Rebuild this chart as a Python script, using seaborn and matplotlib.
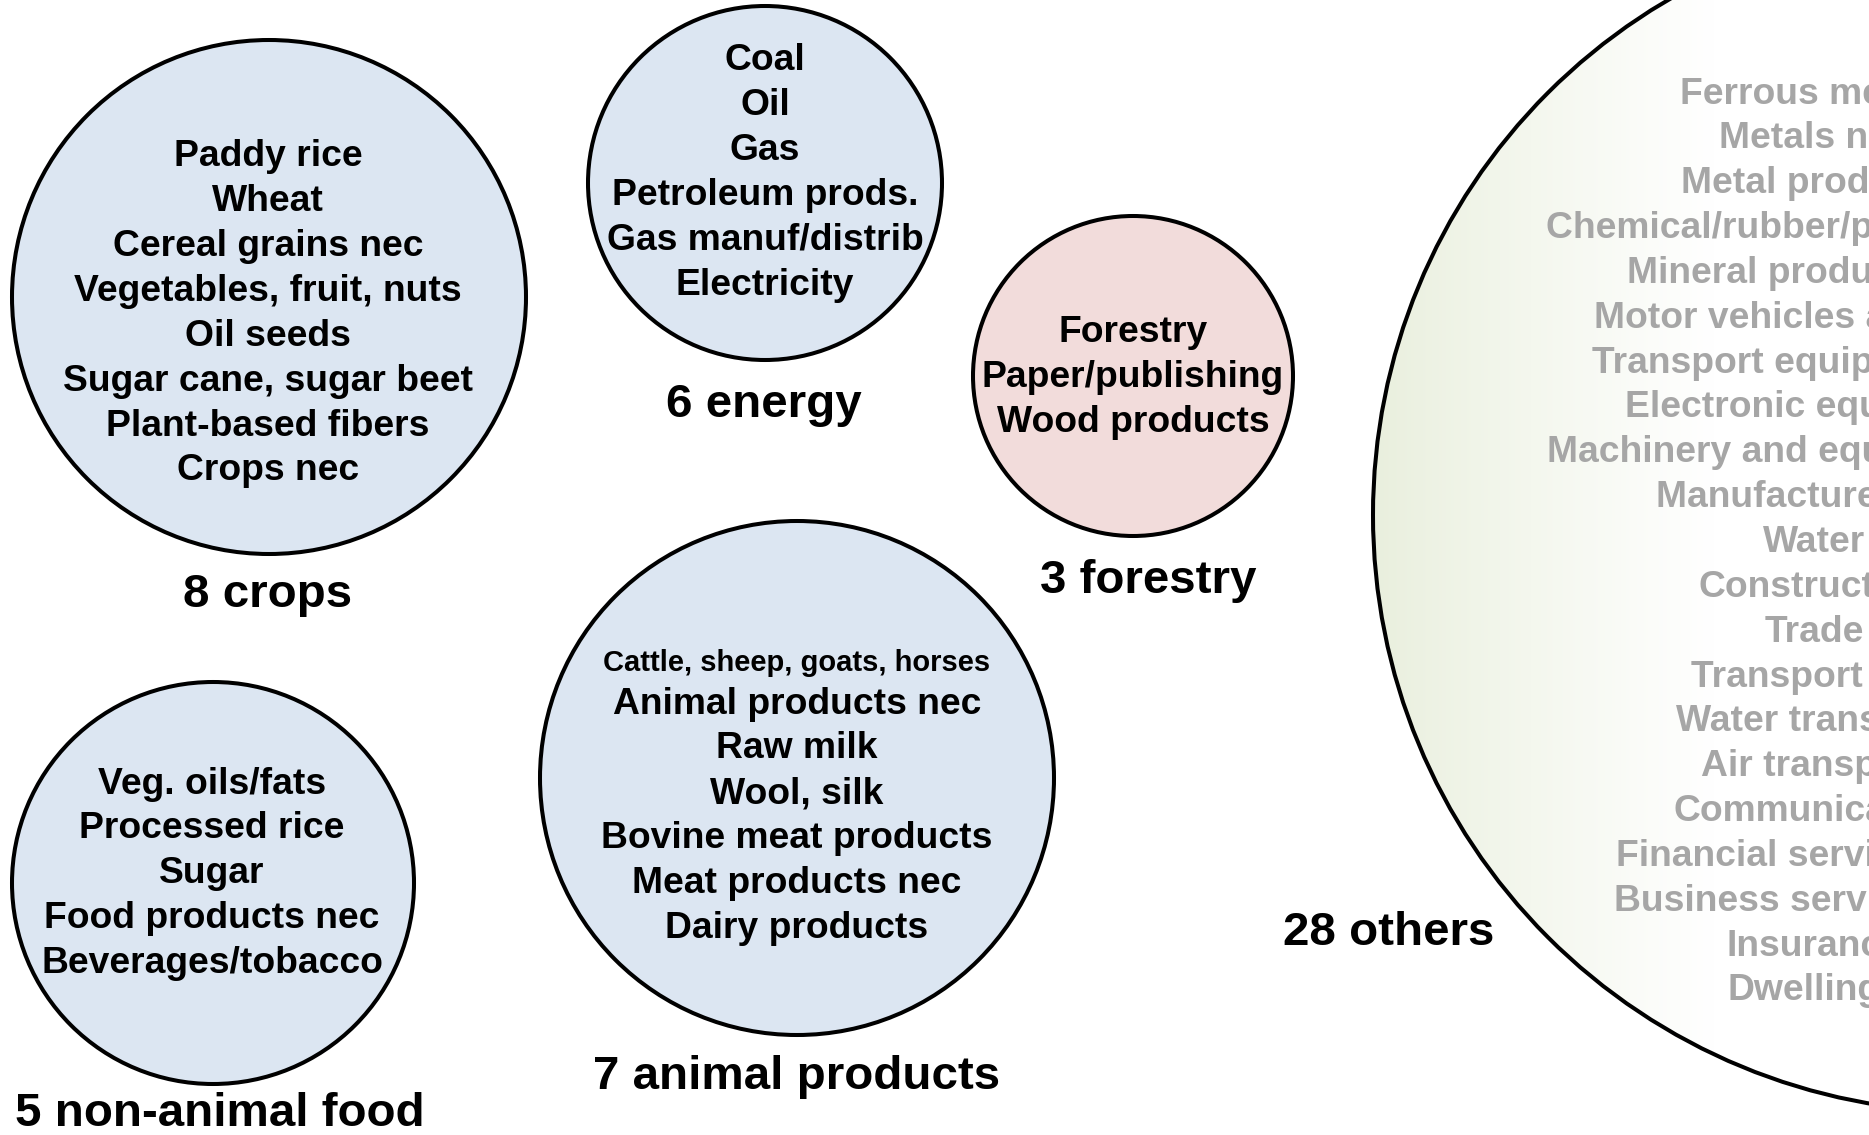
import numpy as np
import pandas as pd
import matplotlib
matplotlib.use("Agg")
import matplotlib.pyplot as plt
import seaborn as sns
from matplotlib.patches import Circle

# ---------------- data ----------------
crops = ["Paddy rice", "Wheat", "Cereal grains nec", "Vegetables, fruit, nuts",
         "Oil seeds", "Sugar cane, sugar beet", "Plant-based fibers", "Crops nec"]
energy = ["Coal", "Oil", "Gas", "Petroleum prods.", "Gas manuf/distrib", "Electricity"]
forestry = ["Forestry", "Paper/publishing", "Wood products"]
non_animal_food = ["Veg. oils/fats", "Processed rice", "Sugar", "Food products nec",
                   "Beverages/tobacco"]
animal_products = ["Cattle, sheep, goats, horses", "Animal products nec", "Raw milk",
                   "Wool, silk", "Bovine meat products", "Meat products nec", "Dairy products"]
others = ["Ferrous metals", "Metals nec", "Metal products", "Chemical/rubber/plastic prods",
          "Mineral products nec", "Motor vehicles and parts", "Transport equipment nec",
          "Electronic equipment", "Machinery and equipment nec", "Manufactures nec", "Water",
          "Construction", "Trade", "Transport nec", "Water transport", "Air transport",
          "Communication", "Financial services nec", "Business services nec", "Insurance",
          "Dwellings"]
group_names = ["crops", "energy", "forestry", "non-animal food", "animal products", "others"]
group_counts = [8, 6, 3, 5, 7, 28]
group_items = [crops, energy, forestry, non_animal_food, animal_products, others]

# ---------------- layout (pixels) ----------------
layout = {
    "crops":           dict(cx=269, cy=297, r=257, fill="#DCE6F2", tx=268, ty0=157, lx=268, ly=595),
    "energy":          dict(cx=765, cy=183, r=177, fill="#DCE6F2", tx=765, ty0=61, lx=764, ly=405),
    "forestry":        dict(cx=1133, cy=376, r=160, fill="#F2DCDB", tx=1133, ty0=333, lx=1148, ly=581),
    "non-animal food": dict(cx=213, cy=883, r=201, fill="#DCE6F2", tx=212, ty0=784, lx=220, ly=1114),
    "animal products": dict(cx=797, cy=778, r=257, fill="#DCE6F2", tx=797, ty0=704, lx=797, ly=1077),
    "others":          dict(cx=1970, cy=515, r=597, fill=None, tx=1814, ty0=94, lx=1389, ly=933),
}
CATTLE_Y = 663
LINE = 44.85
W, H = 1869, 1135
DPI = 100

sns.set_theme(style="white")
plt.rcParams['font.family'] = ['Liberation Sans', 'DejaVu Sans']

fig = plt.figure(figsize=(W / DPI, H / DPI), dpi=DPI)
ax = fig.add_axes([0, 0, 1, 1])

# small circles via seaborn scatter
small = [g for g in group_names if layout[g]["fill"] is not None]
df = pd.DataFrame({
    "group": small,
    "cx": [layout[g]["cx"] for g in small],
    "cy": [layout[g]["cy"] for g in small],
})
sizes = {g: (2 * layout[g]["r"] * 72 / DPI) ** 2 for g in small}
palette = {g: layout[g]["fill"] for g in small}
sns.scatterplot(data=df, x="cx", y="cy", hue="group", size="group", sizes=sizes,
                palette=palette, edgecolor="black", linewidth=2.9, legend=False,
                ax=ax, zorder=2)

# big "others" circle with a horizontal gradient fill
L = layout["others"]
big = Circle((L["cx"], L["cy"]), L["r"], facecolor="none", edgecolor="black",
             linewidth=2.9, zorder=3)
ax.add_patch(big)
x0 = L["cx"] - L["r"]
xs = np.linspace(x0, L["cx"] + L["r"], 1200)
t = np.clip((xs - x0) / 340.0, 0, 1) ** 0.9
green = np.array([233, 239, 221]) / 255.0
white = np.array([1.0, 1.0, 1.0])
grad = (green[None, :] * (1 - t[:, None]) + white[None, :] * t[:, None])[None, :, :]
im = ax.imshow(grad, extent=[x0, L["cx"] + L["r"], L["cy"] + L["r"], L["cy"] - L["r"]],
               aspect="auto", zorder=1, interpolation="bilinear")
clip = Circle((L["cx"], L["cy"]), L["r"], transform=ax.transData, facecolor="none",
              edgecolor="none")
ax.add_patch(clip)
im.set_clip_path(clip)

ax.set_xlim(0, W)
ax.set_ylim(H, 0)
ax.axis("off")

# item texts
ITEM_FS = 26.8
for g, items in zip(group_names, group_items):
    Lg = layout[g]
    color = "#A6A6A6" if g == "others" else "black"
    if g == "animal products":
        ax.text(Lg["tx"], CATTLE_Y, items[0], ha="center", va="center", fontsize=21,
                fontweight="bold", color=color, zorder=5)
        rest = items[1:]
    else:
        rest = items
    for i, s in enumerate(rest):
        ax.text(Lg["tx"], Lg["ty0"] + i * LINE, s, ha="center", va="center",
                fontsize=ITEM_FS, fontweight="bold", color=color, zorder=5)

# group labels
for g, n in zip(group_names, group_counts):
    Lg = layout[g]
    ax.text(Lg["lx"], Lg["ly"], f"{n} {g}", ha="center", va="center", fontsize=34.2,
            fontweight="bold", color="black", zorder=5)

fig.savefig("out.png", dpi=DPI, facecolor="white")
